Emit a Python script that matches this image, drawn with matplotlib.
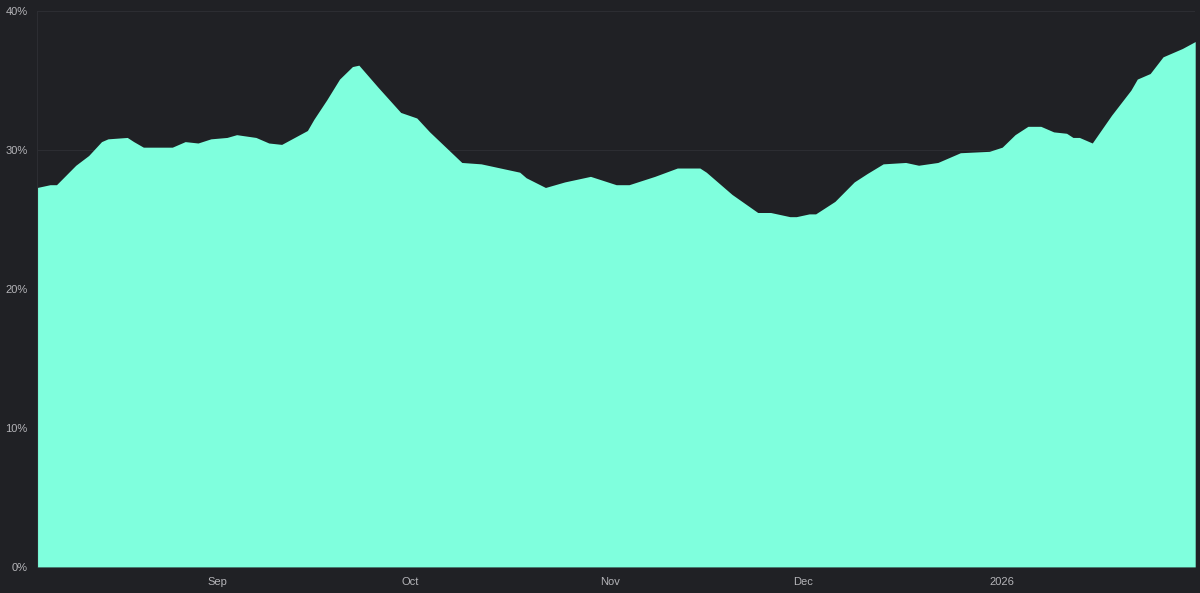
import matplotlib
matplotlib.use('Agg')
from matplotlib import pyplot as plt
import pandas as pd

# dados (dias desde 2025-08-04, valor em %)
inicio = '2025-08-04'
dias = [0, 2, 3, 6, 8, 10, 11, 14, 15, 16.5, 19.5, 21, 23, 25, 27, 29.5, 31, 34, 36, 38,
        40, 42, 43, 45, 47, 49, 50, 53, 56.5, 59, 61, 66, 69, 75, 76, 79, 82, 86, 90, 92,
        96, 99.5, 103, 104, 107, 108, 112, 114, 117, 118, 120, 121, 124, 127, 129, 131.5,
        135, 137, 140, 143.5, 148, 150, 152, 154, 156, 158, 160, 161, 162, 164, 167, 170,
        171, 173, 175, 177, 178, 180]
valores = [27.3, 27.5, 27.5, 28.9, 29.6, 30.6, 30.8, 30.9, 30.6, 30.2, 30.2, 30.2, 30.6,
           30.5, 30.8, 30.9, 31.1, 30.9, 30.5, 30.4, 30.9, 31.4, 32.2, 33.6, 35.1, 36.0,
           36.1, 34.5, 32.7, 32.3, 31.3, 29.1, 29.0, 28.4, 28.0, 27.3, 27.7, 28.1, 27.5,
           27.5, 28.1, 28.7, 28.7, 28.4, 27.2, 26.8, 25.5, 25.5, 25.2, 25.2, 25.4, 25.4,
           26.3, 27.7, 28.3, 29.0, 29.1, 28.9, 29.1, 29.8, 29.9, 30.2, 31.1, 31.7, 31.7,
           31.3, 31.2, 30.9, 30.9, 30.5, 32.5, 34.3, 35.1, 35.5, 36.7, 37.1, 37.3, 37.8]

meses = ['2025-09-01', '2025-10-01', '2025-11-01', '2025-12-01', '2026-01-01']
rotulos_meses = ['Sep', 'Oct', 'Nov', 'Dec', '2026']
rotulos_y = [0, 10, 20, 30, 40]

fundo = '#202125'
menta = '#7fffdd'
cinza = '#b4b4b8'

plt.rcParams['font.family'] = ['Liberation Sans', 'DejaVu Sans']

datas = pd.Timestamp(inicio) + pd.to_timedelta(dias, unit='D')

fig = plt.figure(figsize=(12, 5.93), dpi=100, facecolor=fundo)
ax = fig.add_axes([0.031, 0.044, 0.965, 0.9375], facecolor=fundo)

ax.fill_between(datas, valores, 0, color=menta, linewidth=0, zorder=2)

ax.set_xlim(pd.Timestamp(inicio), pd.Timestamp(inicio) + pd.Timedelta(days=180))
ax.set_ylim(0, 40)

ax.set_xticks(pd.to_datetime(meses))
ax.set_xticklabels(rotulos_meses)
ax.set_yticks(rotulos_y)
ax.set_yticklabels([f'{v}%' for v in rotulos_y])

ax.grid(axis='y', color='#2c2d32', linewidth=0.8, zorder=1)
ax.tick_params(length=0, colors=cinza, labelsize=8, pad=7)
for lado in ['top', 'right', 'bottom']:
    ax.spines[lado].set_visible(False)
ax.spines['left'].set_color('#2c2d32')
ax.spines['left'].set_linewidth(0.8)

fig.savefig('out.png', dpi=100, facecolor=fundo)
